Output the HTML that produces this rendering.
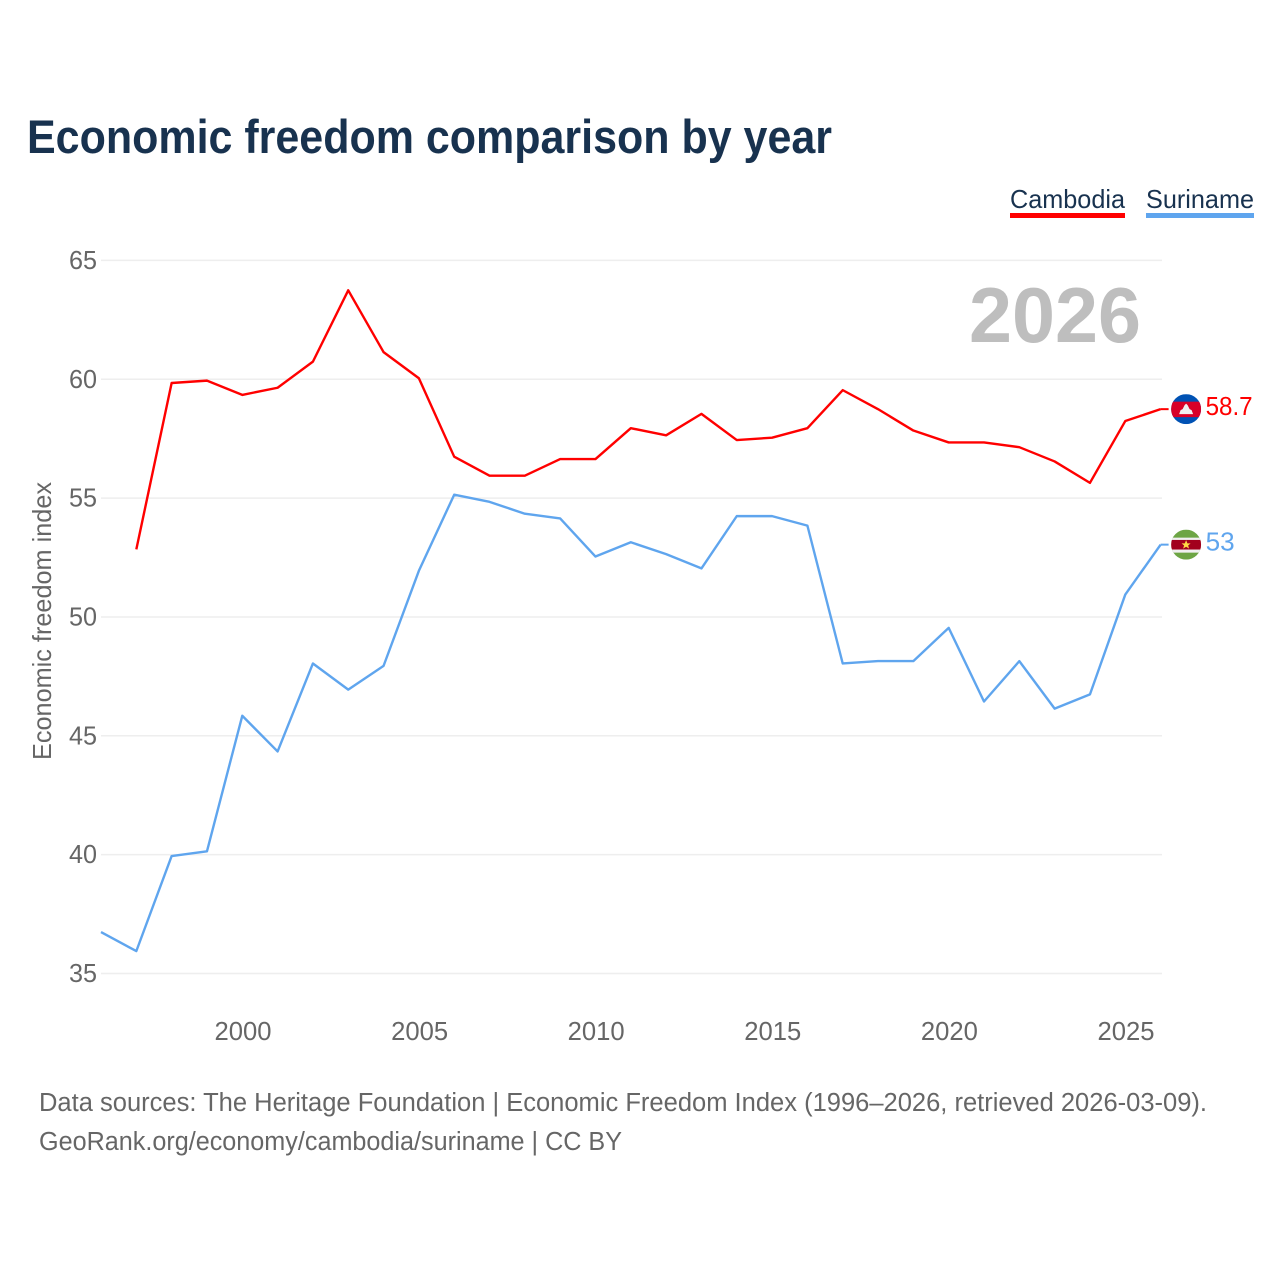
<!DOCTYPE html>
<html lang="en">
<head>
<meta charset="utf-8">
<title>Economic freedom comparison by year</title>
<style>
html,body{margin:0;padding:0;background:#fff;width:1280px;height:1280px;overflow:hidden}
svg{display:block}
text{font-family:"Liberation Sans",sans-serif}
.tick{font-size:26px;fill:#666}
</style>
</head>
<body>
<svg id="chart" width="1280" height="1280" viewBox="0 0 1280 1280" xmlns="http://www.w3.org/2000/svg">
  <defs>
    <clipPath id="flagClip"><circle cx="0" cy="0" r="15"/></clipPath>
  </defs>
  <rect width="1280" height="1280" fill="#fff"/>
  <text x="27" y="153" font-size="47" font-weight="700" fill="#18324f" textLength="805" lengthAdjust="spacingAndGlyphs">Economic freedom comparison by year</text>

  <g>
    <text x="1010" y="208" font-size="26" fill="#18324f" textLength="115" lengthAdjust="spacingAndGlyphs">Cambodia</text>
    <rect x="1010" y="213" width="115" height="5" fill="#ff0000"/>
  </g>
  <g>
    <text x="1146" y="208" font-size="26" fill="#18324f" textLength="108" lengthAdjust="spacingAndGlyphs">Suriname</text>
    <rect x="1146" y="213" width="108" height="5" fill="#5fa5ee"/>
  </g>

  <g id="grid"></g>
  <g id="yTicks"></g>
  <g id="xTicks"></g>

  <text transform="translate(51,760) rotate(-90)" font-size="26" fill="#666" textLength="278" lengthAdjust="spacingAndGlyphs">Economic freedom index</text>
  <text x="969" y="342" font-size="78" font-weight="700" fill="#bebebe" textLength="172" lengthAdjust="spacingAndGlyphs">2026</text>

  <path id="lineSuriname" fill="none" stroke="#5fa5ee" stroke-width="2.4" stroke-linejoin="round"/>
  <path id="lineCambodia" fill="none" stroke="#ff0000" stroke-width="2.4" stroke-linejoin="round"/>

  <g id="endCambodia">
    <line x1="0" x2="8" y1="0" y2="0" stroke="#ff0000" stroke-width="2"/>
    <g transform="translate(25.5,0)" clip-path="url(#flagClip)">
      <rect x="-15" y="-15" width="30" height="30" fill="#0052b4"/>
      <rect x="-15" y="-7.5" width="30" height="15.5" fill="#d80027"/>
      <path d="M-7 5 L-5.5 1 L-3.5 0 L-1.5 -4 L0 -5.5 L1.5 -4 L3.5 0 L5.5 1 L7 5 Z" fill="#f0f0f0"/>
    </g>
    <text id="valCambodia" x="45" y="6" font-size="26" fill="#ff0000" textLength="47" lengthAdjust="spacingAndGlyphs">58.7</text>
  </g>

  <g id="endSuriname">
    <line x1="0" x2="8" y1="0" y2="0" stroke="#5fa5ee" stroke-width="2"/>
    <g transform="translate(25.5,0)" clip-path="url(#flagClip)">
      <rect x="-15" y="-15" width="30" height="30" fill="#6da544"/>
      <rect x="-15" y="-7" width="30" height="15" fill="#f0f0f0"/>
      <rect x="-15" y="-4.7" width="30" height="9.6" fill="#a2001d"/>
      <path d="M0 -4.5 L1.3 -1.3 L4.5 -1.3 L2 0.8 L3 4 L0 2.1 L-3 4 L-2 0.8 L-4.5 -1.3 L-1.3 -1.3 Z" fill="#ffda44"/>
    </g>
    <text id="valSuriname" x="45" y="6" font-size="26" fill="#5fa5ee" textLength="29" lengthAdjust="spacingAndGlyphs">53</text>
  </g>

  <text x="39" y="1111" font-size="25.5" fill="#666" textLength="1168" lengthAdjust="spacingAndGlyphs">Data sources: The Heritage Foundation | Economic Freedom Index (1996–2026, retrieved 2026-03-09).</text>
  <text x="39" y="1150" font-size="25.5" fill="#666" textLength="583" lengthAdjust="spacingAndGlyphs">GeoRank.org/economy/cambodia/suriname | CC BY</text>
</svg>
<script>
const yearsCambodia = [1997,1998,1999,2000,2001,2002,2003,2004,2005,2006,2007,2008,2009,2010,2011,2012,2013,2014,2015,2016,2017,2018,2019,2020,2021,2022,2023,2024,2025,2026];
const valuesCambodia = [52.8,59.8,59.9,59.3,59.6,60.7,63.7,61.1,60.0,56.7,55.9,55.9,56.6,56.6,57.9,57.6,58.5,57.4,57.5,57.9,59.5,58.7,57.8,57.3,57.3,57.1,56.5,55.6,58.2,58.7];
const yearsSuriname = [1996,1997,1998,1999,2000,2001,2002,2003,2004,2005,2006,2007,2008,2009,2010,2011,2012,2013,2014,2015,2016,2017,2018,2019,2020,2021,2022,2023,2024,2025,2026];
const valuesSuriname = [36.7,35.9,39.9,40.1,45.8,44.3,48.0,46.9,47.9,51.9,55.1,54.8,54.3,54.1,52.5,53.1,52.6,52.0,54.2,54.2,53.8,48.0,48.1,48.1,49.5,46.4,48.1,46.1,46.7,50.9,53.0];
const yTickValues = [35,40,45,50,55,60,65];
const xTickValues = [2000,2005,2010,2015,2020,2025];

const NS = 'http://www.w3.org/2000/svg';
const xTickScale = function (year) { return 101.7 + (year - 1996) * 35.32; };
const yGridScale = function (value) { return 973.5 - (value - 35) * 23.77; };
const xScale = function (year) { return xTickScale(year) - 0.7; };
const yScale = function (value) { return yGridScale(value) - 1; };
const linePath = function (xs, ys) {
  return xs.map(function (x, i) {
    return (i ? 'L' : 'M') + xScale(x).toFixed(2) + ' ' + yScale(ys[i]).toFixed(2);
  }).join(' ');
};

const grid = document.getElementById('grid');
const yTicks = document.getElementById('yTicks');
const xTicks = document.getElementById('xTicks');

yTickValues.forEach(function (v) {
  const line = document.createElementNS(NS, 'line');
  
  
  line.setAttribute('x1', 101);
  line.setAttribute('x2', 1162);
  line.setAttribute('y1', yGridScale(v));
  line.setAttribute('y2', yGridScale(v));
  line.setAttribute('stroke', '#eeeeee');
  line.setAttribute('stroke-width', '1.5');
  grid.appendChild(line);

  const label = document.createElementNS(NS, 'text');
  
  
  label.setAttribute('class', 'tick');
  label.setAttribute('x', 97);
  label.setAttribute('y', yGridScale(v) + 8.5);
  label.setAttribute('text-anchor', 'end');
  label.setAttribute('textLength', '28');
  label.setAttribute('lengthAdjust', 'spacingAndGlyphs');
  label.textContent = v;
  yTicks.appendChild(label);
});

xTickValues.forEach(function (v) {
  const label = document.createElementNS(NS, 'text');
  
  
  label.setAttribute('class', 'tick');
  label.setAttribute('x', xTickScale(v) - 28.5);
  label.setAttribute('y', 1040);
  label.setAttribute('textLength', '57');
  label.setAttribute('lengthAdjust', 'spacingAndGlyphs');
  label.textContent = v;
  xTicks.appendChild(label);
});

document.getElementById('lineCambodia').setAttribute('d', linePath(yearsCambodia, valuesCambodia));
document.getElementById('lineSuriname').setAttribute('d', linePath(yearsSuriname, valuesSuriname));

const lastCambodia = valuesCambodia[valuesCambodia.length - 1];
const lastSuriname = valuesSuriname[valuesSuriname.length - 1];
document.getElementById('endCambodia').setAttribute('transform', 'translate(' + xScale(2026) + ',' + yScale(lastCambodia) + ')');
document.getElementById('endSuriname').setAttribute('transform', 'translate(' + xScale(2026) + ',' + yScale(lastSuriname) + ')');
document.getElementById('valCambodia').textContent = lastCambodia;
document.getElementById('valSuriname').textContent = lastSuriname;
</script>
</body>
</html>
